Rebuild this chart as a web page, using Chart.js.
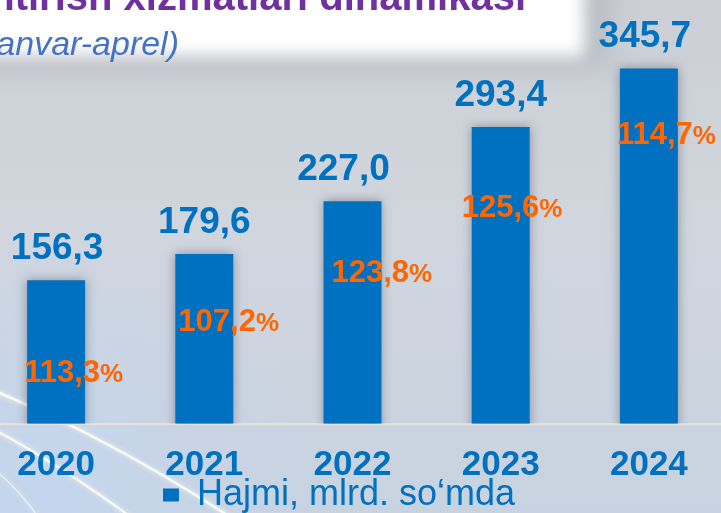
<!DOCTYPE html>
<html>
<head>
<meta charset="utf-8">
<script src="https://cdn.jsdelivr.net/npm/chart.js@4.4.0/dist/chart.umd.min.js"></script>
<style>
  html,body{margin:0;padding:0;width:721px;height:513px;overflow:hidden;background:#cfd4dc;}
  #wrap{position:absolute;left:-45px;top:0;width:768px;height:523px;}
  #title{position:absolute;right:195px;top:-24px;font:bold 40px/40px "Liberation Sans",Arial,sans-serif;color:#7030a0;white-space:nowrap;}
  #sub{position:absolute;right:542px;top:26px;font:italic 34px/34px "Liberation Sans",Arial,sans-serif;color:#4472c4;white-space:nowrap;}
</style>
</head>
<body>
<div id="wrap"><canvas id="chart" width="768" height="523"></canvas></div>
<div id="title">Xizmatlarni rivojlantirish xizmatlari dinamikasi</div>
<div id="sub">(yanvar-aprel)</div>
<script>
  // ===== данные =====
  const years=['2020','2021','2022','2023','2024'];
  const volumes=[156.3,179.6,227.0,293.4,345.7];
  const growth=[113.3,107.2,123.8,125.6,114.7];
  const seriesName='Hajmi, mlrd. so‘mda';

  // ===== оформление =====
  const FONT='"Liberation Sans", Arial, sans-serif';
  const BLUE='#0070c0', ORANGE='#ff6600';
  const valDx=[1,0,-9,0,-4];          // сдвиг подписи значения
  const pctDx=[-3,3,8,-10,-3];        // сдвиг % от левого края столбика
  const pctDy=[91,66,70,79,65];       // центр % ниже верха столбика
  const PAGE_X=45;                    // canvas сдвинут на -45px
  const fmt=v=>v.toFixed(1).replace('.',',');

  const bgPlugin={
    id:'bg',
    beforeDraw(chart){
      const ctx=chart.ctx; ctx.save(); ctx.translate(PAGE_X,0);
      const g=ctx.createLinearGradient(0,0,0,513);
      g.addColorStop(0,'#cccfd5'); g.addColorStop(0.45,'#d1d6de'); g.addColorStop(1,'#c8d3e1');
      ctx.fillStyle=g; ctx.fillRect(-PAGE_X,0,chart.width,chart.height);
      const r=ctx.createRadialGradient(40,500,0,40,500,280);
      r.addColorStop(0,'rgba(196,214,238,0.9)'); r.addColorStop(1,'rgba(196,214,238,0)');
      ctx.fillStyle=r; ctx.fillRect(-PAGE_X,250,500,300);
      // белая плашка заголовка
      ctx.filter='blur(12px)'; ctx.fillStyle='rgba(165,168,176,0.45)'; ctx.fillRect(-40,-40,650,108);
      ctx.filter='blur(8px)'; ctx.fillStyle='#ffffff'; ctx.fillRect(-40,-40,624,96);
      ctx.filter='none';
      // светлые полосы слева внизу
      ctx.strokeStyle='rgba(255,255,238,0.9)'; ctx.shadowColor='rgba(255,255,255,0.9)'; ctx.shadowBlur=5;
      ctx.lineWidth=2.5;
      ctx.beginPath(); ctx.moveTo(-5,391); ctx.bezierCurveTo(40,410,120,445,235,520); ctx.stroke();
      ctx.lineWidth=2;
      ctx.beginPath(); ctx.moveTo(-5,430); ctx.quadraticCurveTo(60,465,135,520); ctx.stroke();
      ctx.lineWidth=1.5; ctx.strokeStyle='rgba(255,255,238,0.6)';
      ctx.beginPath(); ctx.moveTo(-5,470); ctx.quadraticCurveTo(20,490,40,520); ctx.stroke();
      ctx.restore();
    }
  };

  const labelPlugin={
    id:'labels',
    beforeDatasetsDraw(chart){
      const ctx=chart.ctx; ctx.save();
      ctx.shadowColor='rgba(70,72,85,0.5)'; ctx.shadowBlur=10;
    },
    afterDatasetsDraw(chart){
      const ctx=chart.ctx; ctx.restore(); ctx.save();
      const meta=chart.getDatasetMeta(0);
      meta.data.forEach((bar,i)=>{
        // значение над столбиком
        ctx.font='bold 37px '+FONT; ctx.fillStyle=BLUE; ctx.textAlign='center'; ctx.textBaseline='alphabetic';
        ctx.fillText(fmt(volumes[i]),bar.x+valDx[i],bar.y-21);
        // темп роста
        const left=bar.x-bar.width/2+pctDx[i], base=bar.y+pctDy[i]+11;
        const num=fmt(growth[i]);
        ctx.textAlign='left'; ctx.fillStyle=ORANGE;
        ctx.font='bold 31px '+FONT; ctx.fillText(num,left,base);
        const w=ctx.measureText(num).width;
        ctx.font='bold 26px '+FONT; ctx.fillText('%',left+w,base);
      });
      ctx.restore();
    }
  };

  new Chart(document.getElementById('chart'),{
    type:'bar',
    data:{labels:years,datasets:[{label:seriesName,data:volumes,backgroundColor:BLUE,borderWidth:0,
      barPercentage:0.391,categoryPercentage:1,clip:{left:false,top:false,right:false,bottom:0}}]},
    options:{
      responsive:false,animation:false,
      layout:{padding:0},
      plugins:{
        legend:{position:'bottom',labels:{color:BLUE,font:{family:FONT,size:36},boxWidth:16,boxHeight:13,padding:1}},
        tooltip:{enabled:false}
      },
      scales:{
        x:{grid:{display:false,drawTicks:true,tickLength:30.5},border:{display:true,color:'#e9e2da',width:2},
           ticks:{color:BLUE,font:{family:FONT,size:35,weight:'bold',lineHeight:0.6},padding:0.5}},
        y:{position:'left',min:28,max:407,grid:{display:false},border:{display:false},
           ticks:{display:false},afterFit(s){s.width=27;}}
      }
    },
    plugins:[bgPlugin,labelPlugin]
  });
</script>
</body>
</html>
